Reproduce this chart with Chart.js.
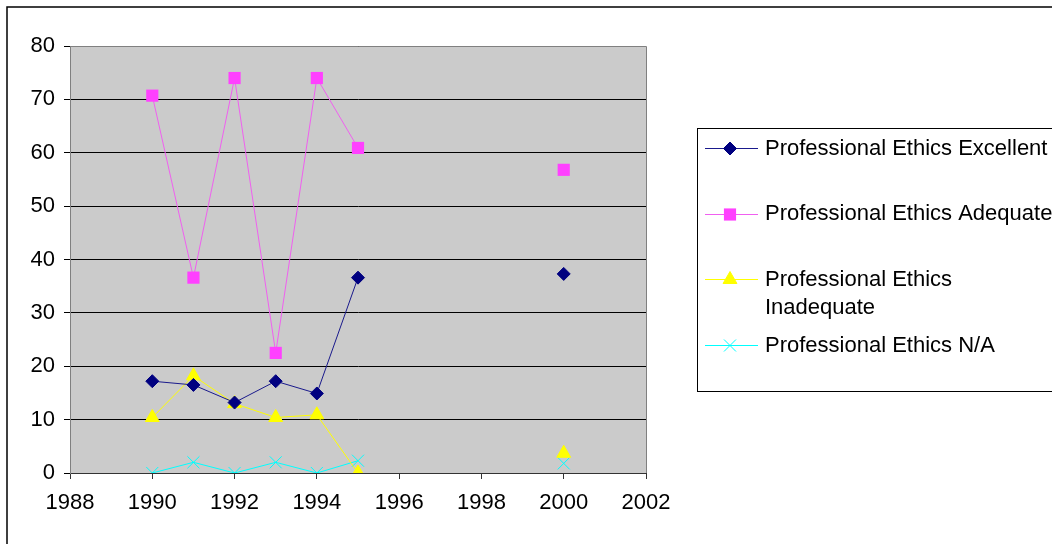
<!DOCTYPE html>
<html>
<head>
<meta charset="utf-8">
<script src="https://cdn.jsdelivr.net/npm/chart.js@4/dist/chart.umd.min.js"></script>
<style>
  html, body { margin: 0; padding: 0; background: #ffffff; }
  canvas { display: block; }
</style>
</head>
<body>
<canvas id="c" width="1052" height="544"></canvas>
<script>
// Survey years (1996-1999 have no responses)
const years = [1990, 1991, 1992, 1993, 1994, 1995, 1996, 1997, 1998, 1999, 2000];

// Percent of responses per rating
const excellent  = [17.2, 16.5, 13.2, 17.2, 14.9, 36.6, null, null, null, null, 37.3];
const adequate   = [70.7, 36.6, 74.0, 22.5, 74.0, 60.9, null, null, null, null, 56.8];
const inadequate = [10.4, 18.2, 13.0, 10.4, 10.9, 0.0, null, null, null, null, 3.7];
const notApplicable = [0.0, 2.0, 0.0, 2.0, 0.0, 2.3, null, null, null, null, 1.8];

const seriesNames = [
  'Professional Ethics Excellent',
  'Professional Ethics Adequate',
  'Professional Ethics Inadequate',
  'Professional Ethics N/A'
];

const xTicks = [1988, 1990, 1992, 1994, 1996, 1998, 2000, 2002];
const yTicks = [0, 10, 20, 30, 40, 50, 60, 70, 80];

const FONT = "'Liberation Sans', Arial, sans-serif";

function points(values) {
  return years.map((yr, i) => ({ x: yr, y: values[i] }));
}

const datasets = [
  { label: seriesNames[0], data: points(excellent), borderColor: '#1A1A8C', backgroundColor: '#000080',
    pointStyle: 'rectRot', pointRadius: 6.5, pointBorderWidth: 1, pointBorderColor: '#000080', pointBackgroundColor: '#000080' },
  { label: seriesNames[1], data: points(adequate), borderColor: '#F060F0', backgroundColor: '#FF40FF',
    pointStyle: 'rect', pointRadius: 8.6, pointBorderWidth: 0, pointBorderColor: '#FF40FF', pointBackgroundColor: '#FF40FF' },
  { label: seriesNames[2], data: points(inadequate), borderColor: '#FFFF00', backgroundColor: '#FFFF00',
    pointStyle: 'triangle', pointRadius: 8, pointBorderWidth: 1, pointBorderColor: '#FFFF00', pointBackgroundColor: '#FFFF00' },
  { label: seriesNames[3], data: points(notApplicable), borderColor: '#00FFFF', backgroundColor: '#00FFFF',
    pointStyle: 'crossRot', pointRadius: 8.5, pointBorderWidth: 1, pointBorderColor: '#00FFFF', pointBackgroundColor: '#00FFFF' }
].map(d => Object.assign(d, { borderWidth: 1, tension: 0, spanGaps: false, fill: false, pointHoverRadius: d.pointRadius }));

// Gray plot background and white page
const plotBackground = {
  id: 'plotBackground',
  beforeDraw(chart) {
    const { ctx, chartArea: a } = chart;
    ctx.save();
    ctx.fillStyle = '#ffffff';
    ctx.fillRect(0, 0, chart.width, chart.height);
    ctx.fillStyle = '#CBCBCB';
    ctx.fillRect(a.left, a.top, a.right - a.left, a.bottom - a.top);
    ctx.restore();
  },
  afterDatasetsDraw(chart) {
    const { ctx, chartArea: a } = chart;
    ctx.save();
    ctx.strokeStyle = '#808080';
    ctx.lineWidth = 1;
    ctx.beginPath();
    ctx.moveTo(a.left, a.top + 0.5);
    ctx.lineTo(a.right + 0.5, a.top + 0.5);
    ctx.lineTo(a.right + 0.5, a.bottom);
    ctx.stroke();
    ctx.restore();
  }
};

// Outer frame and boxed legend at the right
const frameAndLegend = {
  id: 'frameAndLegend',
  afterDraw(chart) {
    const ctx = chart.ctx;
    ctx.save();
    ctx.strokeStyle = '#000000';
    ctx.lineWidth = 1.5;
    ctx.strokeRect(7, 7, 1100, 600);

    ctx.lineWidth = 1;
    ctx.strokeStyle = '#000000';
    ctx.strokeRect(697.5, 128.5, 400, 263);

    ctx.font = '22px ' + FONT;
    ctx.textBaseline = 'middle';
    ctx.textAlign = 'left';
    const textX = 765, lineX0 = 705, lineX1 = 758, markX = 730;
    const pitch = 65.7, firstY = 148, maxW = 288, lineH = 28;

    chart.data.datasets.forEach((ds, i) => {
      const y = firstY + i * pitch;
      ctx.strokeStyle = ds.borderColor;
      ctx.lineWidth = 1;
      ctx.beginPath();
      ctx.moveTo(lineX0, Math.round(y) + 0.5);
      ctx.lineTo(lineX1, Math.round(y) + 0.5);
      ctx.stroke();

      ctx.fillStyle = ds.pointBackgroundColor;
      ctx.strokeStyle = ds.pointBorderColor;
      ctx.lineWidth = ds.pointBorderWidth;
      Chart.helpers.drawPoint(ctx, {
        pointStyle: ds.pointStyle, radius: ds.pointRadius, rotation: 0, borderWidth: ds.pointBorderWidth
      }, markX, Math.round(y) + 0.5);

      // word wrap inside the legend box
      const words = ds.label.split(' ');
      const lines = [];
      let cur = '';
      words.forEach(w => {
        const test = cur ? cur + ' ' + w : w;
        if (ctx.measureText(test).width > maxW && cur) { lines.push(cur); cur = w; }
        else cur = test;
      });
      lines.push(cur);
      ctx.fillStyle = '#000000';
      lines.forEach((ln, k) => ctx.fillText(ln, textX, y + 0.5 + k * lineH));
    });
    ctx.restore();
  }
};

new Chart(document.getElementById('c'), {
  type: 'line',
  data: { datasets },
  plugins: [plotBackground, frameAndLegend],
  options: {
    responsive: false,
    animation: false,
    events: [],
    layout: { padding: { left: 0, top: 46, right: 406, bottom: 0 } },
    plugins: { legend: { display: false }, tooltip: { enabled: false } },
    scales: {
      x: {
        type: 'linear',
        min: xTicks[0],
        max: xTicks[xTicks.length - 1],
        afterFit(scale) { scale.height = 71; },
        afterBuildTicks(scale) { scale.ticks = xTicks.map(v => ({ value: v })); },
        ticks: {
          callback: v => String(v),
          color: '#000000',
          font: { family: FONT, size: 22 },
          padding: 11,
          maxRotation: 0,
          autoSkip: false
        },
        grid: { drawOnChartArea: false, drawTicks: true, tickLength: 6, color: '#333333', lineWidth: 1 },
        border: { display: true, color: '#333333', width: 1 }
      },
      y: {
        type: 'linear',
        min: yTicks[0],
        max: yTicks[yTicks.length - 1],
        afterFit(scale) { scale.width = 70; },
        afterBuildTicks(scale) { scale.ticks = yTicks.map(v => ({ value: v })); },
        ticks: {
          callback: v => String(v),
          color: '#000000',
          font: { family: FONT, size: 22 },
          padding: 9
        },
        grid: { color: '#000000', lineWidth: 1, tickLength: 6, drawTicks: true },
        border: { display: true, color: '#808080', width: 1 }
      }
    }
  }
});
</script>
</body>
</html>
